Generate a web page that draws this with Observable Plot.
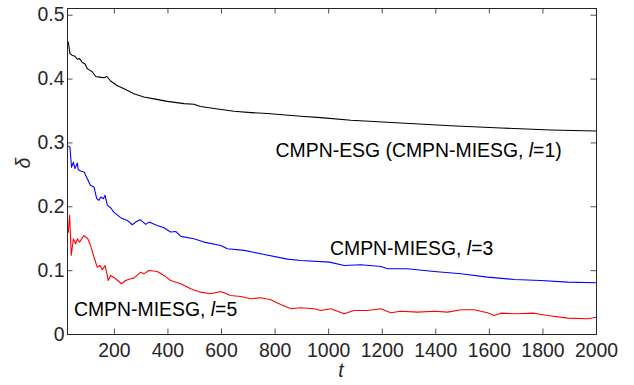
<!DOCTYPE html>
<html>
<head>
<meta charset="utf-8">
<script src="https://cdn.jsdelivr.net/npm/d3@7"></script>
<script src="https://cdn.jsdelivr.net/npm/@observablehq/plot@0.6"></script>
<style>
  html, body { margin: 0; padding: 0; background: #fff; }
  #chart svg { display: block; }
</style>
</head>
<body>
<div id="chart"></div>
<script>
// ---- data ----
const tBlack = [28, 34, 43, 52, 62, 70, 80, 90, 99, 108, 118, 130, 145, 161, 172, 186, 210, 236, 273, 310, 348, 398, 460, 497, 522, 585, 647, 710, 771, 896, 970, 1083, 1270, 1456, 1643, 1830, 2000];
const dBlack = [0.458, 0.440, 0.437, 0.436, 0.431, 0.432, 0.426, 0.424, 0.416, 0.414, 0.411, 0.404, 0.403, 0.402, 0.404, 0.397, 0.390, 0.385, 0.377, 0.372, 0.369, 0.365, 0.3615, 0.3605, 0.357, 0.353, 0.3495, 0.3475, 0.346, 0.3417, 0.3396, 0.3354, 0.3312, 0.327, 0.3234, 0.3203, 0.3187];

const tBlue = [28, 34, 40, 47, 53, 62, 65, 74, 87, 99, 111, 124, 134, 142, 149, 159, 165, 174, 186, 198, 223, 248, 267, 279, 296, 317, 329, 360, 385, 410, 429, 448, 497, 535, 597, 622, 684, 746, 846, 896, 1003, 1058, 1120, 1195, 1220, 1294, 1394, 1494, 1593, 1693, 1792, 1892, 2000];
const dBlue = [0.295, 0.2936, 0.262, 0.270, 0.2597, 0.2685, 0.258, 0.256, 0.2545, 0.244, 0.2335, 0.2309, 0.2127, 0.210, 0.2152, 0.2127, 0.2179, 0.2022, 0.1985, 0.1917, 0.183, 0.1787, 0.1719, 0.176, 0.1798, 0.1724, 0.176, 0.1708, 0.1672, 0.1604, 0.1614, 0.1536, 0.150, 0.1447, 0.1395, 0.1343, 0.1317, 0.1265, 0.118, 0.116, 0.1133, 0.108, 0.1092, 0.1066, 0.103, 0.103, 0.0987, 0.0951, 0.0898, 0.0862, 0.0846, 0.082, 0.081];

const tRed = [28, 33, 39, 47, 55, 62, 70, 86, 101, 111, 124, 136, 146, 155, 165, 171, 177, 186, 205, 226, 242, 261, 273, 298, 310, 329, 360, 385, 410, 448, 485, 522, 560, 597, 634, 672, 709, 746, 784, 821, 859, 896, 946, 970, 1008, 1058, 1095, 1145, 1195, 1232, 1269, 1332, 1394, 1444, 1494, 1543, 1593, 1618, 1643, 1705, 1767, 1817, 1892, 1967, 2000];
const dRed = [0.160, 0.1865, 0.124, 0.150, 0.142, 0.150, 0.1447, 0.155, 0.150, 0.1395, 0.121, 0.1055, 0.108, 0.1014, 0.108, 0.0977, 0.0846, 0.0925, 0.0873, 0.0795, 0.0846, 0.0873, 0.0883, 0.0977, 0.095, 0.1003, 0.0987, 0.0925, 0.0846, 0.0795, 0.0716, 0.0663, 0.0637, 0.0674, 0.0611, 0.0596, 0.056, 0.0575, 0.0544, 0.047, 0.0403, 0.0418, 0.0403, 0.0376, 0.0403, 0.0324, 0.0376, 0.0376, 0.0403, 0.034, 0.0365, 0.035, 0.0365, 0.035, 0.0387, 0.0387, 0.034, 0.0298, 0.0334, 0.0324, 0.0334, 0.0298, 0.0256, 0.0246, 0.027];

const xTicks = [200, 400, 600, 800, 1000, 1200, 1400, 1600, 1800, 2000];
const yTicks = [0, 0.1, 0.2, 0.3, 0.4, 0.5];
const yTickLabels = ["0", "0.1", "0.2", "0.3", "0.4", "0.5"];

const labelText = ["CMPN-ESG (CMPN-MIESG, l=1)", "CMPN-MIESG, l=3", "CMPN-MIESG, l=5"];
const labelT = [802, 1005, 49];
const labelDelta = [0.288, 0.135, 0.039];

// ---- build ----
const toRows = (ts, ds) => ts.map((t, i) => ({t, d: ds[i]}));
const black = toRows(tBlack, dBlack);
const blue = toRows(tBlue, dBlue);
const red = toRows(tRed, dRed);
const labels = labelText.map((s, i) => ({s, t: labelT[i], d: labelDelta[i]}));

const W = 634, H = 385;
const mL = 67, mR = 38, mT = 8, mB = 51;
const pw = W - mL - mR, ph = H - mT - mB;
const tk = 5.5;
const axisColor = "#262626";
const font = "'Liberation Sans', Arial, Helvetica, sans-serif";
const fs = 19.4;

const chart = Plot.plot({
  width: W,
  height: H,
  marginLeft: mL,
  marginRight: mR,
  marginTop: mT,
  marginBottom: mB,
  style: {fontFamily: font, fontSize: fs + "px", background: "#fff"},
  x: {domain: [25, 2000], axis: null},
  y: {domain: [0, 0.5105], axis: null},
  marks: [
    Plot.line(black, {x: "t", y: "d", stroke: "#000", strokeWidth: 1.1}),
    Plot.line(blue, {x: "t", y: "d", stroke: "#0000ff", strokeWidth: 1.1}),
    Plot.line(red, {x: "t", y: "d", stroke: "#ff0000", strokeWidth: 1.1}),
    // inward ticks on all four sides
    Plot.tickX(xTicks, {x: d => d, insetTop: ph - tk, stroke: axisColor, strokeWidth: 0.8}),
    Plot.tickX(xTicks, {x: d => d, insetBottom: ph - tk, stroke: axisColor, strokeWidth: 0.8}),
    Plot.tickY(yTicks, {y: d => d, insetRight: pw - tk, stroke: axisColor, strokeWidth: 0.8}),
    Plot.tickY(yTicks, {y: d => d, insetLeft: pw - tk, stroke: axisColor, strokeWidth: 0.8}),
    Plot.frame({stroke: axisColor, strokeWidth: 1}),
    Plot.axisX({ticks: xTicks, tickSize: 0, tickPadding: 9, fontSize: fs, fill: axisColor, label: null,
      tickFormat: d => String(d)}),
    Plot.axisY({ticks: yTicks, tickSize: 0, tickPadding: 3, fontSize: fs, fill: axisColor, label: null,
      tickFormat: d => yTickLabels[yTicks.indexOf(d)] ?? String(d)}),
    Plot.text(["δ"], {frameAnchor: "left", dx: -44, dy: -3, rotate: -90, fontStyle: "italic", fontSize: 19.5, fill: axisColor}),
    Plot.text(["t"], {frameAnchor: "bottom", dx: 9, dy: 42, fontStyle: "italic", fontSize: 19.5, fill: axisColor}),
    Plot.text(labels, {x: "t", y: "d", text: "s", textAnchor: "start", fontSize: fs, fill: "#000"})
  ]
});

// italic "l" inside the curve labels
d3.select(chart).selectAll("text").each(function() {
  const txt = this.textContent;
  if (!this.querySelector("tspan") && /, l=/.test(txt)) {
    const m = txt.match(/^(.*, )l(=.*)$/);
    if (m) {
      const el = d3.select(this);
      el.text(null);
      el.append("tspan").text(m[1]);
      el.append("tspan").attr("font-style", "italic").text("l");
      el.append("tspan").text(m[2]);
    }
  }
});

document.getElementById("chart").appendChild(chart);
</script>
</body>
</html>
